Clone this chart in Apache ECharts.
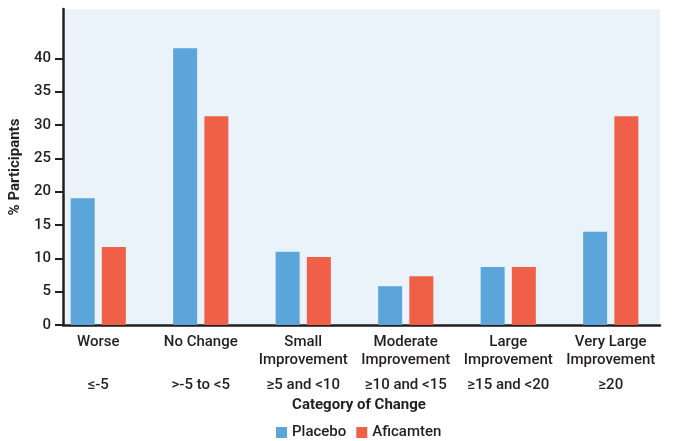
<!DOCTYPE html>
<html>
<head>
<meta charset="utf-8">
<script src="https://cdn.jsdelivr.net/npm/echarts@6/dist/echarts.min.js"></script>
<style>html,body{margin:0;padding:0;background:#fff}#c{width:673px;height:441px}</style>
</head>
<body>
<div id="c"></div>
<script>
const categories = ['Worse', 'No Change', 'Small', 'Moderate', 'Large', 'Very Large'];
const secondLine = ['', '', 'Improvement', 'Improvement', 'Improvement', 'Improvement'];
const ranges = ['≤-5', '>-5 to <5', '≥5 and <10', '≥10 and <15', '≥15 and <20', '≥20'];
const placebo = [19.0, 41.5, 11.0, 5.8, 8.7, 14.0];
const aficamten = [11.7, 31.3, 10.2, 7.3, 8.7, 31.3];
const yTicks = [0, 5, 10, 15, 20, 25, 30, 35, 40];
const yMax = 47.4;

const FONT = 'Roboto';
const INK = '#231f20';
const FS = 15;
const chart = echarts.init(document.getElementById('c'), null, {renderer: 'canvas'});
chart.setOption({
  animation: false,
  textStyle: {fontFamily: FONT, color: INK},
  grid: [
    {left: 47, right: 11, top: 9, bottom: 116, show: false},
    {left: 63, right: 13, top: 9, bottom: 116, show: true, backgroundColor: '#eaf2fa', borderWidth: 0}
  ],
  legend: {
    top: 425, left: 276, padding: 0,
    itemWidth: 11, itemHeight: 11, itemGap: 10,
    icon: 'rect',
    textStyle: {fontFamily: FONT, fontSize: FS, fontWeight: 500, color: INK},
    data: ['Placebo', 'Aficamten']
  },
  xAxis: [
    {
      type: 'category', gridIndex: 0, data: categories,
      axisLine: {show: false}, axisTick: {show: false},
      axisLabel: {
        interval: 0, margin: 8,
        formatter: function (v, i) {
          return '{a|' + v + '}\n{a|' + secondLine[i] + '}\n{b|' + ranges[i] + '}';
        },
        rich: {
          a: {fontFamily: FONT, fontSize: FS, fontWeight: 500, color: INK, lineHeight: 18},
          b: {fontFamily: FONT, fontSize: FS, fontWeight: 500, color: INK, lineHeight: 32}
        }
      },
      name: 'Category of Change', nameLocation: 'middle', nameGap: 71,
      nameTextStyle: {fontFamily: FONT, fontSize: FS, fontWeight: 'bold', color: INK, padding: [0, 0, 0, 9]}
    },
    {
      type: 'value', gridIndex: 1, min: 0, max: 1,
      axisLine: {show: true, lineStyle: {color: INK, width: 2.5}},
      axisTick: {show: false}, axisLabel: {show: false}, splitLine: {show: false}
    }
  ],
  yAxis: [
    {
      type: 'value', gridIndex: 0, min: 0, max: yMax, show: false, splitLine: {show: false}
    },
    {
      type: 'value', gridIndex: 1, min: 0, max: yMax,
      axisLine: {show: true, lineStyle: {color: INK, width: 2.5}},
      axisTick: {show: true, length: 8, customValues: yTicks, lineStyle: {color: INK, width: 2}},
      axisLabel: {customValues: yTicks, fontFamily: FONT, fontSize: FS, fontWeight: 500, color: INK, margin: 12},
      splitLine: {show: false},
      name: '% Participants', nameLocation: 'middle', nameGap: 39,
      nameTextStyle: {fontFamily: FONT, fontSize: FS, fontWeight: 'bold', color: INK}
    }
  ],
  series: [
    {name: 'Placebo', type: 'bar', xAxisIndex: 0, yAxisIndex: 0, data: placebo,
     barWidth: 24, barGap: '30%', itemStyle: {color: '#5ba5db'}},
    {name: 'Aficamten', type: 'bar', xAxisIndex: 0, yAxisIndex: 0, data: aficamten,
     barWidth: 24, barGap: '30%', itemStyle: {color: '#f05f48'}}
  ]
});
</script>
</body>
</html>
